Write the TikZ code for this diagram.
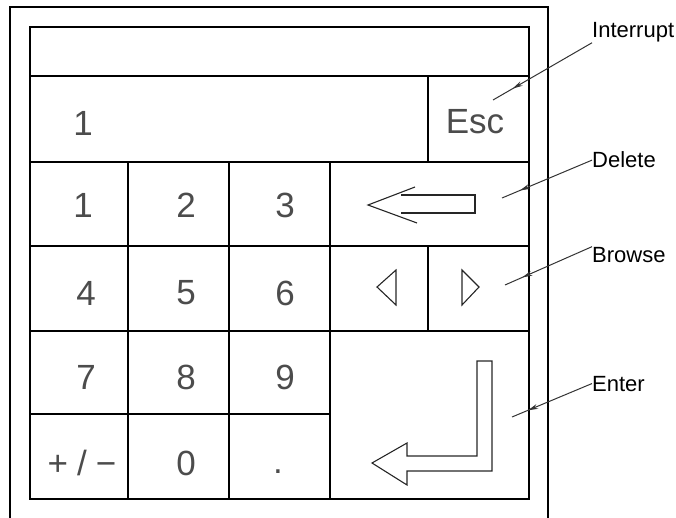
\documentclass[tikz,border=0pt]{standalone}
\usepackage{fontspec}
\setmainfont{Liberation Sans}
\usetikzlibrary{arrows.meta,decorations.markings}
\tikzstyle{key} = [draw, line width=1.3pt, inner sep=0pt]
\tikzstyle{digit} = [font=\fontsize{35}{35}\selectfont, text=black!70, inner sep=0pt]
\tikzstyle{note} = [font=\fontsize{22}{22}\selectfont, anchor=base west, inner sep=0pt]
\tikzstyle{sym} = [line width=1.1pt, black!85, line join=miter]
\tikzstyle{leader} = [line width=1pt, black!80, postaction={decorate},
  decoration={markings, mark=at position 0.8 with {\arrow{Stealth[length=10pt,width=5pt]}}}]

\begin{document}
\begin{tikzpicture}[x=1pt, y=-1pt]
  \useasboundingbox (0,0) rectangle (676,518);
  % housing
  \draw [line width=1.3pt] (10,518) -- (10,7) -- (548,7) -- (548,518);
  % display
  \node (disp) at (279.5,51.5) [key, minimum width=499, minimum height=49] {};
  \node (entry) at (229,119) [key, minimum width=398, minimum height=86] {};
  \node (esc) at (478.5,119) [key, minimum width=101, minimum height=86] {};
  \node (escl) at (475,122) [digit] {Esc};
  \node (ent1) at (83,123) [digit] {1};
  % keys
  \node (k1) at (79,204) [key, minimum width=98, minimum height=84] {};
  \node (k2) at (178.5,204) [key, minimum width=101, minimum height=84] {};
  \node (k3) at (279.5,204) [key, minimum width=101, minimum height=84] {};
  \node (del) at (429.5,204) [key, minimum width=199, minimum height=84] {};
  \node (k4) at (79,288.5) [key, minimum width=98, minimum height=85] {};
  \node (k5) at (178.5,288.5) [key, minimum width=101, minimum height=85] {};
  \node (k6) at (279.5,288.5) [key, minimum width=101, minimum height=85] {};
  \node (left) at (379,288.5) [key, minimum width=98, minimum height=85] {};
  \node (right) at (478.5,288.5) [key, minimum width=101, minimum height=85] {};
  \node (k7) at (79,372.5) [key, minimum width=98, minimum height=83] {};
  \node (k8) at (178.5,372.5) [key, minimum width=101, minimum height=83] {};
  \node (k9) at (279.5,372.5) [key, minimum width=101, minimum height=83] {};
  \node (enter) at (429.5,415) [key, minimum width=199, minimum height=168] {};
  \node (kpm) at (79,456.5) [key, minimum width=98, minimum height=85] {};
  \node (k0) at (178.5,456.5) [key, minimum width=101, minimum height=85] {};
  \node (kdot) at (279.5,456.5) [key, minimum width=101, minimum height=85] {};
  % key texts
  \node (t1) at (83,205) [digit] {1};
  \node (t2) at (186,205) [digit] {2};
  \node (t3) at (285,205) [digit] {3};
  \node (t4) at (86,293) [digit] {4};
  \node (t5) at (186,293) [digit] {5};
  \node (t6) at (285,293) [digit] {6};
  \node (t7) at (86,377) [digit] {7};
  \node (t8) at (186,377) [digit] {8};
  \node (t9) at (285,377) [digit] {9};
  \node (tpm) at (82,463) [digit] {+\hspace{9pt}/\hspace{9pt}−};
  \node (t0) at (186,463) [digit] {0};
  \node (tdot) at (278,472) [digit] {.};
  % symbols
  \draw [sym] (415,187) -- (368,205) -- (417,223);
  \draw [sym] (401,195) -- (475,195) -- (475,213) -- (401,213);
  \draw [sym] (396,270) -- (377,287) -- (396,305) -- cycle;
  \draw [sym] (462,270) -- (479,287) -- (462,305) -- cycle;
  \draw [sym] (477,361) -- (492,361) -- (492,471) -- (407,471) -- (407,485)
    -- (372,463) -- (407,443) -- (407,456) -- (477,456) -- cycle;
  % callouts
  \node (intr) at (592,38) [note] {Interrupt};
  \node (dele) at (592,168) [note] {Delete};
  \node (brow) at (592,262) [note] {Browse};
  \node (ente) at (592,391) [note] {Enter};
  \coordinate (pint) at (493,100);
  \coordinate (pdel) at (502,198);
  \coordinate (pbro) at (505,285);
  \coordinate (pent) at (512,417);
  \draw [leader] (intr.south west) -- (pint);
  \draw [leader] (dele.west) -- (pdel);
  \draw [leader] (brow.north west) -- (pbro);
  \draw [leader] (ente.west) -- (pent);
\end{tikzpicture}
\end{document}
